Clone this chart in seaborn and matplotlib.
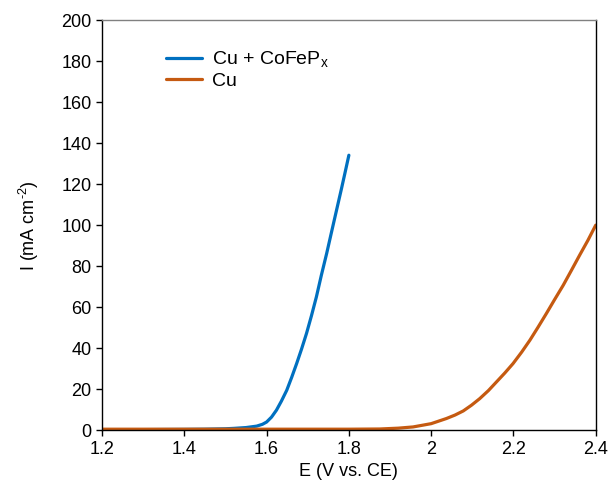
import matplotlib
matplotlib.use("Agg")
import matplotlib.pyplot as plt
import seaborn as sns
import pandas as pd

# Data
e_cofep = [1.20, 1.30, 1.40, 1.45, 1.50, 1.52, 1.55, 1.576, 1.59, 1.600, 1.612, 1.624, 1.636, 1.649,
           1.661, 1.673, 1.685, 1.697, 1.709, 1.721, 1.733, 1.746, 1.758, 1.770, 1.782, 1.790, 1.800]
i_cofep = [0.3, 0.3, 0.4, 0.5, 0.7, 0.9, 1.3, 2.0, 2.9, 4.0, 6.4, 9.8, 14.2, 19.5,
           25.8, 32.5, 39.6, 47.2, 55.8, 65.0, 75.5, 86.2, 96.8, 107.3, 117.8, 125.0, 134.1]
e_cu = [1.20, 1.40, 1.60, 1.80, 1.875, 1.92, 1.956, 2.00, 2.037, 2.058, 2.078, 2.098, 2.118, 2.139,
        2.159, 2.179, 2.199, 2.220, 2.240, 2.260, 2.280, 2.300, 2.321, 2.341, 2.361, 2.381, 2.400]
i_cu = [0.5, 0.5, 0.5, 0.5, 0.6, 1.0, 1.6, 3.2, 5.7, 7.4, 9.4, 12.2, 15.4, 19.3,
        23.6, 27.9, 32.5, 38.1, 43.9, 50.3, 56.9, 63.7, 70.7, 78.0, 85.4, 92.6, 100.0]

labels = ["Cu + CoFeP$_\\mathregular{x}$", "Cu"]
colors = ["#0070C0", "#C55A11"]
x_ticks = [1.2, 1.4, 1.6, 1.8, 2.0, 2.2, 2.4]
x_ticklabels = ["1.2", "1.4", "1.6", "1.8", "2", "2.2", "2.4"]
y_ticks = [0, 20, 40, 60, 80, 100, 120, 140, 160, 180, 200]

df = pd.concat([
    pd.DataFrame({"E": e_cofep, "I": i_cofep, "s": labels[0]}),
    pd.DataFrame({"E": e_cu, "I": i_cu, "s": labels[1]}),
])

sns.set_style("white")
plt.rcParams["font.family"] = ["Liberation Sans", "DejaVu Sans"]
plt.rcParams["mathtext.fontset"] = "custom"
plt.rcParams["mathtext.rm"] = "Liberation Sans"
plt.rcParams["text.color"] = "black"
plt.rcParams["axes.labelcolor"] = "black"

fig = plt.figure(figsize=(6.11, 4.90), dpi=100)
ax = fig.add_axes([0.167, 0.122, 0.808, 0.837])

sns.lineplot(data=df, x="E", y="I", hue="s", palette=colors, linewidth=2.3,
             ax=ax, legend=True, sort=False)

ax.set_xlim(1.2, 2.4)
ax.set_ylim(0, 200)
ax.set_xticks(x_ticks)
ax.set_xticklabels(x_ticklabels)
ax.set_yticks(y_ticks)
ax.tick_params(axis="both", direction="out", length=4, width=1, colors="black",
               labelsize=13, left=True, bottom=True)
ax.set_xlabel("E (V vs. CE)", fontsize=13, color="black")
ax.set_ylabel("I (mA cm$^{\\mathregular{\u2010}2}$)", fontsize=13, color="black", labelpad=15)

for side in ["left", "right", "bottom"]:
    ax.spines[side].set_color("black")
    ax.spines[side].set_linewidth(1.0)
ax.spines["top"].set_color("#808080")
ax.spines["top"].set_linewidth(1.0)

leg = ax.legend(handles=ax.get_legend_handles_labels()[0], labels=labels,
                loc="upper left", bbox_to_anchor=(0.095, 0.97), frameon=False,
                fontsize=14, handlelength=1.85, handletextpad=0.5, labelspacing=0.12)
for t in leg.get_texts():
    t.set_color("black")

fig.savefig("out.png", dpi=100)
